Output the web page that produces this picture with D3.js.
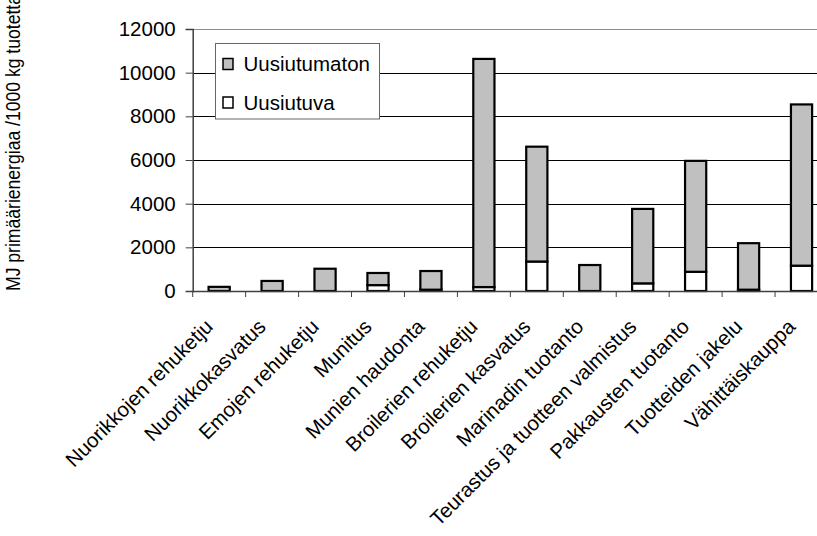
<!DOCTYPE html>
<html><head><meta charset="utf-8">
<script src="https://cdn.jsdelivr.net/npm/d3@7"></script>
<style>
html,body{margin:0;padding:0;background:#fff;overflow:hidden}
svg{display:block;font-family:"Liberation Sans",Arial,sans-serif}
</style></head>
<body>
<svg id="c" width="817" height="536"></svg>
<script>
const categories = ["Nuorikkojen rehuketju","Nuorikkokasvatus","Emojen rehuketju","Munitus","Munien haudonta","Broilerien rehuketju","Broilerien kasvatus","Marinadin tuotanto","Teurastus ja tuotteen valmistus","Pakkausten tuotanto","Tuotteiden jakelu","Vähittäiskauppa"];
const uusiutuva = [0, 0, 0, 270, 60, 180, 1350, 0, 350, 880, 60, 1160];
const uusiutumaton = [190, 460, 1020, 555, 855, 10450, 5260, 1190, 3410, 5080, 2130, 7385];
const yTicks = [0, 2000, 4000, 6000, 8000, 10000, 12000];
const seriesNames = ["Uusiutumaton", "Uusiutuva"];
const yLabel = "MJ primäärienergiaa /1000 kg tuotetta";

const svg = d3.select("#c");
const L = 192.7, R = 828, T = 29, B = 291, W = 817;
const FS = "20.5px";

const x = d3.scaleBand().domain(categories).range([L, R]).padding(0);
const y = d3.scaleLinear().domain([0, 12000]).range([B, T]);
const barW = x.bandwidth() * 0.4;

// gridlines
svg.append("g").selectAll("line").data(yTicks.filter(d => d > 0)).join("line")
  .attr("x1", L).attr("x2", W).attr("y1", d => Math.round(y(d)) + 0.5).attr("y2", d => Math.round(y(d)) + 0.5)
  .attr("stroke", d => d === 12000 ? "#8c8c8c" : "#000").attr("stroke-width", 1);

// bars
const data = categories.map((c, i) => ({c, r: uusiutuva[i], n: uusiutumaton[i]}));
const g = svg.append("g");
data.forEach(d => {
  const x0 = x(d.c) + (x.bandwidth() - barW) / 2;
  if (d.r > 0) {
    g.append("rect").attr("x", x0).attr("width", barW)
      .attr("y", y(d.r)).attr("height", y(0) - y(d.r))
      .attr("fill", "#fff").attr("stroke", "#000").attr("stroke-width", 2.2);
  }
  g.append("rect").attr("x", x0).attr("width", barW)
    .attr("y", y(d.r + d.n)).attr("height", y(d.r) - y(d.r + d.n))
    .attr("fill", "#c0c0c0").attr("stroke", "#000").attr("stroke-width", 2.2);
});

// y axis
const ya = svg.append("g").attr("transform", `translate(${L},0)`)
  .call(d3.axisLeft(y).tickValues(yTicks).tickSize(7).tickPadding(10).tickFormat(d3.format("d")));
ya.select(".domain").attr("stroke", "#404040").attr("stroke-width", 1.5);
ya.selectAll(".tick line").attr("stroke", "#404040");
ya.selectAll(".tick text").attr("font-size", FS).attr("font-family", "Liberation Sans, Arial, sans-serif").attr("fill", "#000");

// x axis line and ticks at band edges
svg.append("line").attr("x1", L).attr("x2", W).attr("y1", B + 0.5).attr("y2", B + 0.5)
  .attr("stroke", "#404040").attr("stroke-width", 1.5);
const edges = categories.map(c => x(c)).concat([R]);
svg.append("g").selectAll("line").data(edges).join("line")
  .attr("x1", d => d).attr("x2", d => d).attr("y1", B).attr("y2", B + 6)
  .attr("stroke", "#404040").attr("stroke-width", 1);

// x labels
svg.append("g").selectAll("text").data(categories).join("text")
  .attr("transform", d => `translate(${x(d) + x.bandwidth() / 2 - 5},${B + 37}) rotate(-45)`)
  .attr("text-anchor", "end").attr("font-size", FS).attr("fill", "#000")
  .text(d => d);

// y label
svg.append("text").attr("transform", `translate(20,${B}) rotate(-90)`)
  .attr("text-anchor", "start").attr("font-size", FS).attr("fill", "#000")
  .attr("textLength", 296).attr("lengthAdjust", "spacingAndGlyphs").text(yLabel);

// legend
const lg = svg.append("g");
lg.append("rect").attr("x", 215.5).attr("y", 43.5).attr("width", 164).attr("height", 75.5)
  .attr("fill", "#fff").attr("stroke", "#666").attr("stroke-width", 1);
const legFill = ["#c0c0c0", "#fff"];
seriesNames.forEach((s, i) => {
  const cy = 64 + i * 38.5;
  lg.append("rect").attr("x", 223).attr("y", cy - 5.5).attr("width", 10).attr("height", 11)
    .attr("fill", legFill[i]).attr("stroke", "#000").attr("stroke-width", 1.5);
  lg.append("text").attr("x", 243.5).attr("y", cy + 7).attr("font-size", FS).attr("fill", "#000").text(s);
});
</script>
</body></html>
